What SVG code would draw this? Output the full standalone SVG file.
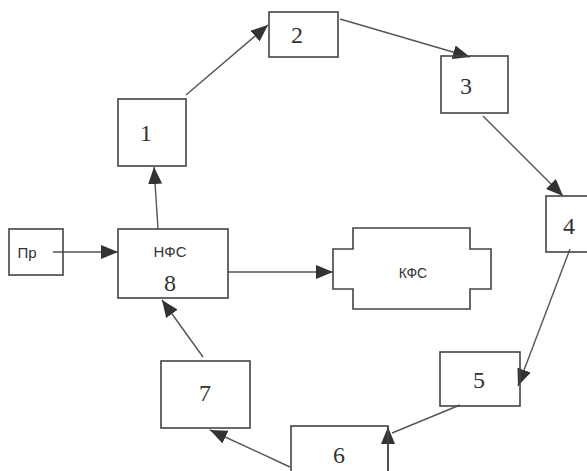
<svg xmlns="http://www.w3.org/2000/svg" width="587" height="471" viewBox="0 0 587 471">
<style>
.box{fill:none;stroke:#444;stroke-width:1.6}
.ln{fill:none;stroke:#555;stroke-width:1.4}
.num{font-family:"Liberation Serif",serif;font-size:24px;fill:#333;text-anchor:middle}
.lab{font-family:"Liberation Sans",Arial,sans-serif;fill:#333;text-anchor:middle}
</style>
<defs>
<marker id="ah" markerUnits="userSpaceOnUse" markerWidth="18" markerHeight="14" refX="17" refY="7" orient="auto">
<path d="M0,0 L17,7 L0,14 z" fill="#333"/>
</marker>
</defs>
<rect width="587" height="471" fill="#fff"/>
<g id="connectors">
<line class="ln" x1="53" y1="252" x2="118" y2="252" marker-end="url(#ah)"/>
<line class="ln" x1="158" y1="229" x2="154" y2="167" marker-end="url(#ah)"/>
<line class="ln" x1="186" y1="95" x2="268" y2="25" marker-end="url(#ah)"/>
<line class="ln" x1="340" y1="19" x2="470" y2="57" marker-end="url(#ah)"/>
<line class="ln" x1="483" y1="116" x2="563" y2="196" marker-end="url(#ah)"/>
<line class="ln" x1="570" y1="249" x2="518" y2="386" marker-end="url(#ah)"/>
<line class="ln" x1="460" y1="405" x2="392" y2="433"/>
<line class="ln" x1="388" y1="471" x2="388" y2="427" marker-end="url(#ah)"/>
<line class="ln" x1="290" y1="467" x2="210" y2="430" marker-end="url(#ah)"/>
<line class="ln" x1="203" y1="357" x2="162" y2="300" marker-end="url(#ah)"/>
<line class="ln" x1="228" y1="272" x2="333" y2="272" marker-end="url(#ah)"/>
</g>
<g id="node-pr">
<rect class="box" x="9" y="229" width="54" height="46"/>
<text class="lab" x="27" y="258" font-size="15">Пр</text>
</g>
<g id="node-8">
<rect class="box" x="118" y="229" width="110" height="69"/>
<text class="lab" x="170" y="257" font-size="15">НФС</text>
<text class="num" x="170" y="291">8</text>
</g>
<g id="node-1">
<rect class="box" x="118" y="99" width="68" height="67"/>
<text class="num" x="146" y="141">1</text>
</g>
<g id="node-2">
<rect class="box" x="269" y="12" width="69" height="45"/>
<text class="num" x="297" y="43">2</text>
</g>
<g id="node-3">
<rect class="box" x="441" y="56" width="67" height="57"/>
<text class="num" x="466" y="94">3</text>
</g>
<g id="node-4">
<rect class="box" x="546" y="196" width="46" height="56"/>
<text class="num" x="569" y="234">4</text>
</g>
<g id="node-5">
<rect class="box" x="440" y="352" width="80" height="54"/>
<text class="num" x="479" y="388">5</text>
</g>
<g id="node-6">
<rect class="box" x="291" y="426" width="97" height="50"/>
<text class="num" x="339" y="463">6</text>
</g>
<g id="node-7">
<rect class="box" x="161" y="361" width="89" height="67"/>
<text class="num" x="205" y="401">7</text>
</g>
<g id="node-kfs">
<path class="box" d="M353,228 H470 V249 H491 V289 H470 V309 H353 V289 H333 V249 H353 Z"/>
<text class="lab" x="413" y="278" font-size="14">КФС</text>
</g>
</svg>
